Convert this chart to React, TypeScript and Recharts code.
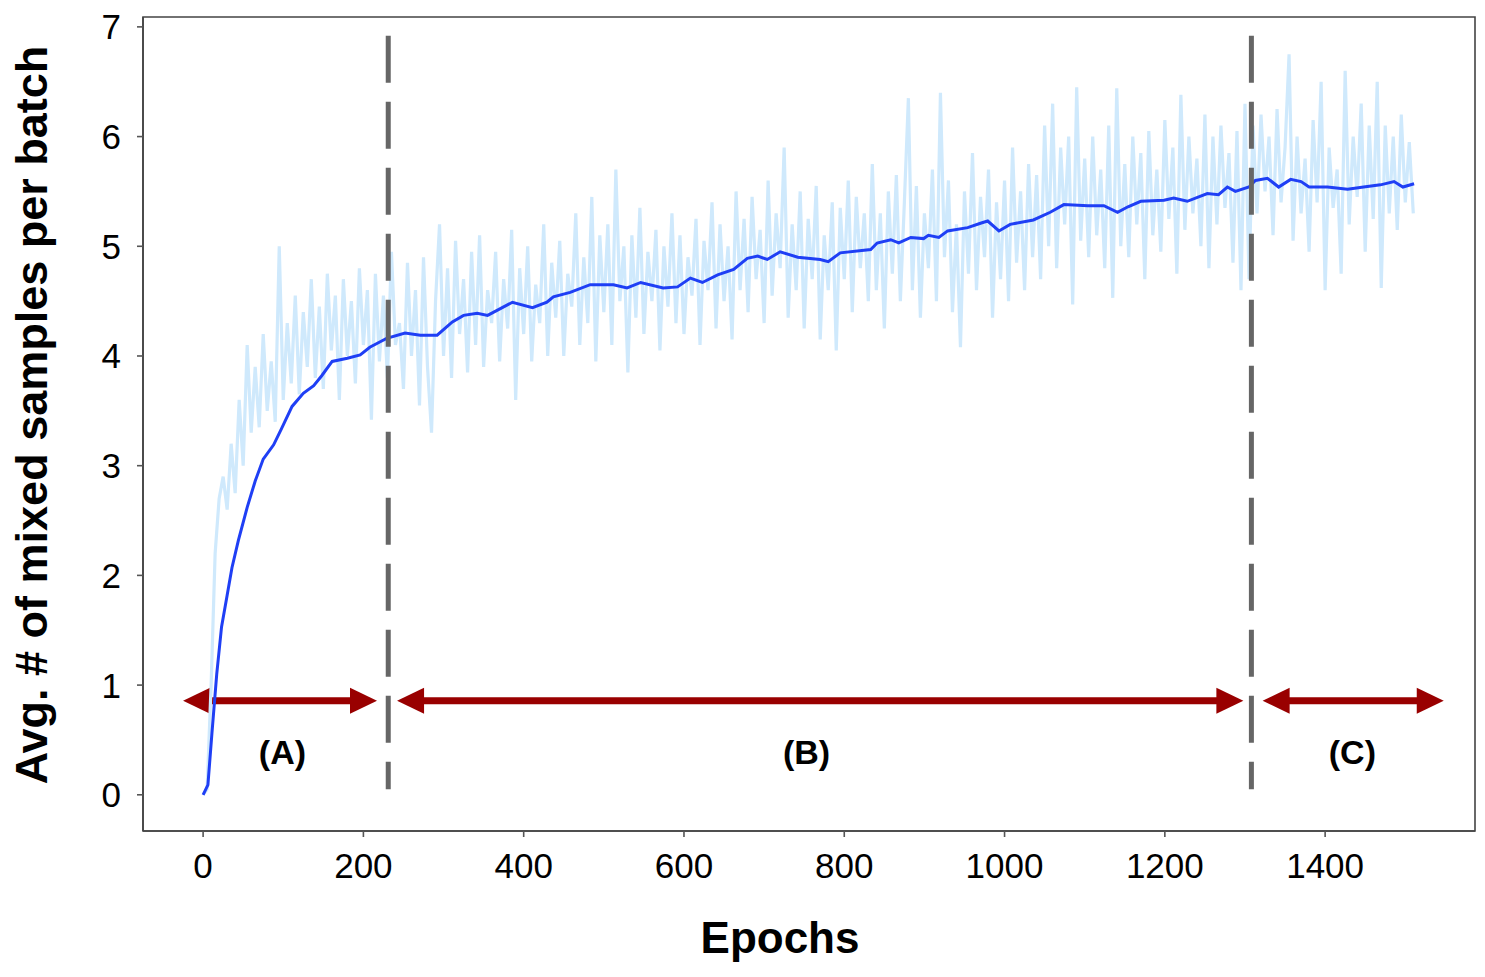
import { LineChart, Line, XAxis, YAxis, ReferenceLine, ReferenceDot, ReferenceArea } from "recharts";

const FONT = "'Liberation Sans', Arial, Helvetica, sans-serif";
const ARROW_RED = "#990000";

const X_DOMAIN: [number, number] = [-75, 1587];
const Y_DOMAIN: [number, number] = [-0.33, 7.09];
const xTicks = [0, 200, 400, 600, 800, 1000, 1200, 1400];
const yTicks = [0, 1, 2, 3, 4, 5, 6, 7];

// smoothed curve
const smoothEpochs = [
  0, 6, 11, 17, 23, 30, 36, 44, 55, 65, 75, 88, 98, 111, 125, 138, 148, 161, 180, 196, 208, 221, 229,
  252, 271, 292, 311, 325, 342, 355, 386, 411, 429, 437, 458, 483, 512, 529, 546, 574, 592, 608, 623,
  642, 662, 679, 692, 704, 720, 742, 770, 780, 795, 833, 841, 858, 868, 883, 899, 905, 918, 929, 954,
  970, 979, 993, 1007, 1036, 1057, 1074, 1104, 1124, 1141, 1154, 1170, 1199, 1211, 1228, 1253, 1267,
  1278, 1288, 1305, 1313, 1328, 1342, 1357, 1370, 1380, 1403, 1428, 1448, 1469, 1486, 1497, 1511,
];
const smoothValues = [
  0, 0.09, 0.56, 1.1, 1.53, 1.82, 2.07, 2.32, 2.62, 2.86, 3.06, 3.19, 3.34, 3.54, 3.66, 3.73, 3.82, 3.95,
  3.98, 4.01, 4.08, 4.13, 4.16, 4.21, 4.19, 4.19, 4.31, 4.37, 4.39, 4.37, 4.49, 4.44, 4.49, 4.54, 4.58,
  4.65, 4.65, 4.62, 4.67, 4.62, 4.63, 4.71, 4.67, 4.74, 4.79, 4.89, 4.91, 4.88, 4.95, 4.9, 4.88, 4.86,
  4.94, 4.97, 5.03, 5.06, 5.03, 5.08, 5.07, 5.1, 5.08, 5.14, 5.17, 5.21, 5.23, 5.14, 5.2, 5.24, 5.31,
  5.38, 5.37, 5.37, 5.31, 5.36, 5.41, 5.42, 5.44, 5.41, 5.48, 5.47, 5.54, 5.5, 5.54, 5.6, 5.62, 5.54,
  5.61, 5.59, 5.54, 5.54, 5.52, 5.54, 5.56, 5.59, 5.54, 5.57,
];

// raw per-batch values (light blue), one reading every 5 epochs
const NOISE_STEP = 5;
const noiseValues = [
  // 0 - 95
  0, 0.05, 1.0, 2.2, 2.7, 2.9, 2.6, 3.2, 2.75, 3.6, 3.0, 4.1, 3.3, 3.9, 3.35, 4.2, 3.5, 3.95, 3.4, 5.0,
  // 100 - 195
  3.6, 4.3, 3.75, 4.55, 3.65, 4.4, 3.9, 4.7, 3.8, 4.45, 3.7, 4.75, 4.05, 4.55, 3.6, 4.7, 4.0, 4.5, 3.75, 4.8,
  // 200 - 295
  4.1, 4.6, 3.42, 4.75, 3.95, 4.55, 3.8, 4.95, 4.1, 4.3, 3.7, 4.85, 4.0, 4.6, 3.55, 4.9, 3.9, 3.3, 4.5, 5.2,
  // 300 - 395
  4.0, 4.8, 3.8, 5.05, 4.2, 4.7, 3.85, 4.95, 4.1, 5.1, 3.9, 4.6, 4.3, 4.95, 3.95, 4.7, 4.25, 5.15, 3.6, 4.8,
  // 400 - 495
  4.2, 5.0, 3.95, 4.65, 4.3, 5.2, 4.0, 4.85, 4.35, 5.05, 4.0, 4.75, 4.45, 5.3, 4.1, 4.9, 4.3, 5.45, 3.95, 5.1,
  // 500 - 595
  4.4, 5.2, 4.1, 5.7, 4.5, 5.0, 3.85, 5.1, 4.35, 5.35, 4.2, 4.95, 4.5, 5.15, 4.05, 5.0, 4.45, 5.3, 4.3, 5.1,
  // 600 - 695
  4.2, 4.9, 4.55, 5.25, 4.1, 5.05, 4.6, 5.4, 4.25, 5.2, 4.5, 5.0, 4.15, 5.5, 4.6, 5.25, 4.4, 5.45, 4.7, 5.15,
  // 700 - 795
  4.3, 5.6, 4.55, 5.3, 4.8, 5.9, 4.35, 5.2, 4.6, 5.5, 4.25, 5.25, 4.7, 5.55, 4.15, 5.1, 4.6, 5.4, 4.05, 5.35,
  // 800 - 895
  4.7, 5.6, 4.4, 5.45, 4.8, 5.3, 4.5, 5.75, 4.6, 5.3, 4.25, 5.5, 4.75, 5.65, 4.5, 5.4, 6.35, 4.6, 5.55, 4.35,
  // 900 - 995
  5.3, 4.8, 5.7, 4.5, 6.4, 4.9, 5.6, 4.4, 5.2, 4.08, 5.5, 4.75, 5.85, 4.6, 5.45, 4.9, 5.7, 4.35, 5.4, 4.7,
  // 1000 - 1095
  5.6, 4.5, 5.9, 4.85, 5.5, 4.6, 5.75, 4.9, 5.65, 4.7, 6.1, 5.0, 6.3, 4.8, 5.9, 5.2, 6.0, 4.47, 6.45, 5.05,
  // 1100 - 1195
  5.8, 4.9, 6.0, 5.1, 5.7, 4.8, 6.1, 4.53, 6.44, 5.0, 5.75, 4.9, 6.0, 5.2, 5.85, 4.7, 6.05, 5.1, 5.7, 4.95,
  // 1200 - 1295
  6.15, 5.25, 5.9, 4.75, 6.38, 5.15, 6.0, 5.3, 5.8, 5.0, 6.2, 4.8, 6.0, 5.2, 6.1, 5.35, 5.85, 4.85, 6.05, 4.6,
  // 1300 - 1395
  6.3, 4.7, 6.1, 5.3, 6.2, 5.5, 6.0, 5.1, 6.25, 5.4, 5.9, 6.75, 5.05, 6.0, 5.3, 5.8, 4.95, 6.15, 5.4, 6.5,
  // 1400 - 1495
  4.6, 5.9, 5.35, 5.7, 4.75, 6.6, 5.2, 6.0, 5.45, 6.3, 4.95, 6.1, 5.25, 6.5, 4.62, 6.1, 5.3, 6.0, 5.15, 6.2,
  // 1500 - 1510
  5.4, 5.95, 5.3,
];

// phase boundaries (dashed lines) and arrows
const phaseBoundaries = [231, 1308];
const DASH_TOP = 6.92;
const DASH_BOTTOM = 0.05;
const ARROW_Y = 0.857;
const phaseArrows = [
  { from: -25, to: 217 },
  { from: 242, to: 1298 },
  { from: 1322, to: 1548 },
];
const phaseLabels = [
  { text: "(A)", epoch: 99 },
  { text: "(B)", epoch: 753 },
  { text: "(C)", epoch: 1434 },
];
const PHASE_LABEL_Y = 0.39;

const smoothData = smoothEpochs.map((epoch, i) => ({ epoch, value: smoothValues[i] }));
const noiseData = noiseValues.map((value, i) => ({ epoch: i * NOISE_STEP, value }));

const AXIS_LINE = { stroke: "#444", strokeWidth: 1.6 };
const TICK_LINE = { stroke: "#555", strokeWidth: 1.6 };

function ArrowShape(props: any) {
  const { x1, y1, x2, y2 } = props;
  const head = 27;
  const half = 13;
  const left = Math.min(x1, x2);
  const right = Math.max(x1, x2);
  const y = (y1 + y2) / 2;
  return (
    <g>
      <line x1={left + head - 2} y1={y} x2={right - head + 2} y2={y} stroke={ARROW_RED} strokeWidth={7} />
      <polygon points={`${left},${y} ${left + head},${y - half} ${left + head},${y + half}`} fill={ARROW_RED} />
      <polygon points={`${right},${y} ${right - head},${y - half} ${right - head},${y + half}`} fill={ARROW_RED} />
    </g>
  );
}

export default function App() {
  return (
    <div style={{ position: "absolute", left: 0, top: 0, background: "#fff" }}>
      <LineChart
        width={1485}
        height={977}
        margin={{ top: 17, right: 10, left: 0, bottom: 0 }}
        style={{ fontFamily: FONT }}
      >
        <XAxis
          dataKey="epoch"
          type="number"
          domain={X_DOMAIN}
          ticks={xTicks}
          allowDataOverflow
          height={146}
          axisLine={AXIS_LINE}
          tickLine={TICK_LINE}
          tickSize={6}
          tickMargin={16}
          tick={{ fill: "#000", fontSize: 35, fontFamily: FONT }}
          label={(p: any) => {
            const vb = p.viewBox;
            return (
              <text
                x={vb.x + vb.width / 2 - 29}
                y={953}
                textAnchor="middle"
                fontSize={44}
                fontWeight={700}
                fontFamily={FONT}
                fill="#000"
              >
                Epochs
              </text>
            );
          }}
        />
        <YAxis
          type="number"
          domain={Y_DOMAIN}
          ticks={yTicks}
          allowDataOverflow
          width={143}
          axisLine={AXIS_LINE}
          tickLine={TICK_LINE}
          tickSize={6}
          tickMargin={16}
          tick={{ fill: "#000", fontSize: 35, fontFamily: FONT }}
          label={(p: any) => {
            const vb = p.viewBox;
            const cy = vb.y + vb.height / 2 - 9;
            return (
              <text
                x={47}
                y={cy}
                transform={`rotate(-90, 47, ${cy})`}
                textAnchor="middle"
                fontSize={45}
                fontWeight={700}
                fontFamily={FONT}
                fill="#000"
              >
                Avg. # of mixed samples per batch
              </text>
            );
          }}
        />

        {/* plot frame */}
        <ReferenceArea
          x1={X_DOMAIN[0]}
          x2={X_DOMAIN[1]}
          y1={Y_DOMAIN[0]}
          y2={Y_DOMAIN[1]}
          fill="none"
          fillOpacity={0}
          stroke="#444"
          strokeWidth={1.6}
          ifOverflow="visible"
        />

        {phaseArrows.map((a, i) => (
          <ReferenceLine
            key={`arrow-${i}`}
            segment={[
              { x: a.from, y: ARROW_Y },
              { x: a.to, y: ARROW_Y },
            ]}
            shape={ArrowShape}
            ifOverflow="visible"
          />
        ))}

        <Line
          data={noiseData}
          dataKey="value"
          type="linear"
          stroke="#cfe9fc"
          strokeWidth={3.2}
          dot={false}
          activeDot={false}
          isAnimationActive={false}
        />
        <Line
          data={smoothData}
          dataKey="value"
          type="linear"
          stroke="#1f3ff5"
          strokeWidth={3}
          dot={false}
          activeDot={false}
          isAnimationActive={false}
        />

        {phaseBoundaries.map((e) => (
          <ReferenceLine
            key={`dash-${e}`}
            segment={[
              { x: e, y: DASH_TOP },
              { x: e, y: DASH_BOTTOM },
            ]}
            stroke="#666"
            strokeWidth={5}
            strokeDasharray="47 19"
            ifOverflow="visible"
          />
        ))}

        {phaseLabels.map((l) => (
          <ReferenceDot
            key={l.text}
            x={l.epoch}
            y={PHASE_LABEL_Y}
            r={0}
            fill="none"
            stroke="none"
            ifOverflow="visible"
            label={{
              value: l.text,
              position: "center",
              fontSize: 34,
              fontWeight: 700,
              fill: "#000",
              fontFamily: FONT,
            }}
          />
        ))}
      </LineChart>
    </div>
  );
}
